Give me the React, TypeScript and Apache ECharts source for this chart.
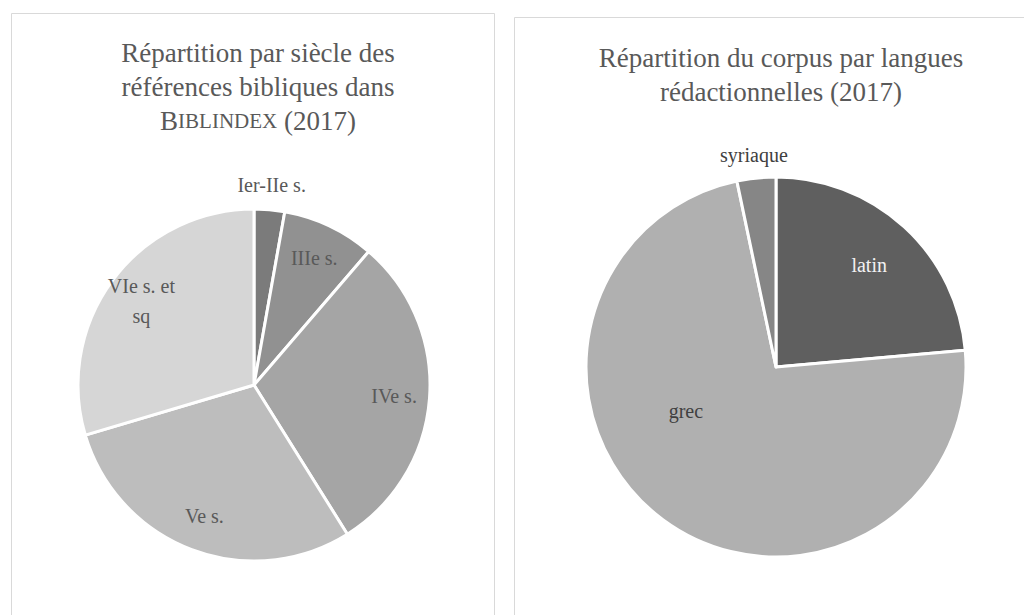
import React, { useEffect, useRef } from "react";
import * as echarts from "echarts";

const centuryNames = ["Ier-IIe s.", "IIIe s.", "IVe s.", "Ve s.", "VIe s. et sq"];
const centuryValues = [2.8, 8.5, 29.8, 29.3, 29.6];
const centuryColors = ["#7b7b7b", "#919191", "#a5a5a5", "#bdbdbd", "#d6d6d6"];
const centuryOutside = ["Ier-IIe s."];

const languageNames = ["latin", "grec", "syriaque"];
const languageValues = [23.6, 73.1, 3.3];
const languageColors = ["#5f5f5f", "#b0b0b0", "#868686"];
const languageOutside = ["syriaque"];
const languageLabelColors = ["#f2f2f2", "#404040", "#404040"];

const FONT = "'Liberation Serif', 'DejaVu Serif', serif";

export default function App() {
  const ref = useRef<HTMLDivElement>(null);
  useEffect(() => {
    if (!ref.current) return;
    const chart = echarts.init(ref.current, undefined, { renderer: "svg" });

    const visible = (names: string[], values: number[], colors: string[], center: number[], radius: number) => ({
      type: "pie",
      center,
      radius: [0, radius],
      startAngle: 90,
      clockwise: true,
      silent: true,
      avoidLabelOverlap: false,
      label: { show: false },
      labelLine: { show: false },
      itemStyle: { borderColor: "#ffffff", borderWidth: 3 },
      data: names.map((n, i) => ({ name: n, value: values[i], itemStyle: { color: colors[i] } })),
    });

    const overlay = (
      names: string[],
      values: number[],
      show: (n: string) => boolean,
      center: number[],
      radius: number[],
      labelColors?: string[],
      labelLayout?: any
    ) => ({
      type: "pie",
      center,
      radius,
      startAngle: 90,
      clockwise: true,
      silent: true,
      avoidLabelOverlap: false,
      emphasis: { disabled: true },
      labelLine: { show: false },
      itemStyle: { color: "rgba(0,0,0,0)", borderWidth: 0 },
      label: {
        position: "inside",
        fontFamily: FONT,
        fontSize: 20,
        color: "#595959",
        lineHeight: 30,
        formatter: (p: any) => (p.name === "VIe s. et sq" ? "VIe s. et\nsq" : p.name),
      },
      ...(labelLayout ? { labelLayout } : {}),
      data: names.map((n, i) => ({
        name: n,
        value: values[i],
        label: { show: show(n), color: labelColors ? labelColors[i] : "#595959" },
      })),
    });

    const leftCenter = [254, 385];
    const leftR = 176;
    const rightCenter = [776, 367];
    const rightR = 190;

    const titleStyle = {
      fontFamily: FONT,
      fontSize: 27,
      lineHeight: 34,
      fontWeight: "normal",
      color: "#595959",
    };

    chart.setOption({
      animation: false,
      backgroundColor: "#ffffff",
      title: [
        {
          text: "Répartition par siècle des\nréférences bibliques dans\n{b|B}{s|IBLINDEX} (2017)",
          left: 253,
          top: 31,
          textAlign: "center",
          textStyle: {
            ...titleStyle,
            rich: {
              b: { fontFamily: FONT, fontSize: 27, lineHeight: 34, color: "#595959" },
              s: { fontFamily: FONT, fontSize: 21, lineHeight: 34, color: "#595959" },
            },
          },
        },
        {
          text: "Répartition du corpus par langues\nrédactionnelles (2017)",
          left: 776,
          top: 36,
          textAlign: "center",
          textStyle: titleStyle,
        },
      ],
      graphic: [
        {
          type: "rect",
          shape: { x: 11.5, y: 13.5, width: 483, height: 700 },
          style: { fill: "none", stroke: "#d9d9d9", lineWidth: 1 },
          silent: true,
        },
        {
          type: "rect",
          shape: { x: 514.5, y: 17.5, width: 600, height: 700 },
          style: { fill: "none", stroke: "#d9d9d9", lineWidth: 1 },
          silent: true,
        },
      ],
      series: [
        visible(centuryNames, centuryValues, centuryColors, leftCenter, leftR),
        overlay(centuryNames, centuryValues, (n) => !centuryOutside.includes(n), leftCenter, [99, leftR]),
        overlay(centuryNames, centuryValues, (n) => centuryOutside.includes(n), leftCenter, [186, 210]),
        visible(languageNames, languageValues, languageColors, rightCenter, rightR),
        overlay(
          languageNames,
          languageValues,
          (n) => !languageOutside.includes(n),
          rightCenter,
          [80, rightR],
          languageLabelColors,
          (params: any) => (params.dataIndex === 1 ? { dx: -8, dy: -67 } : {})
        ),
        overlay(languageNames, languageValues, (n) => languageOutside.includes(n), rightCenter, [200, 220], languageLabelColors),
      ],
    });

    return () => chart.dispose();
  }, []);

  return (
    <div
      ref={ref}
      style={{ position: "absolute", left: 0, top: 0, width: 1024, height: 615, background: "#fff" }}
    />
  );
}
